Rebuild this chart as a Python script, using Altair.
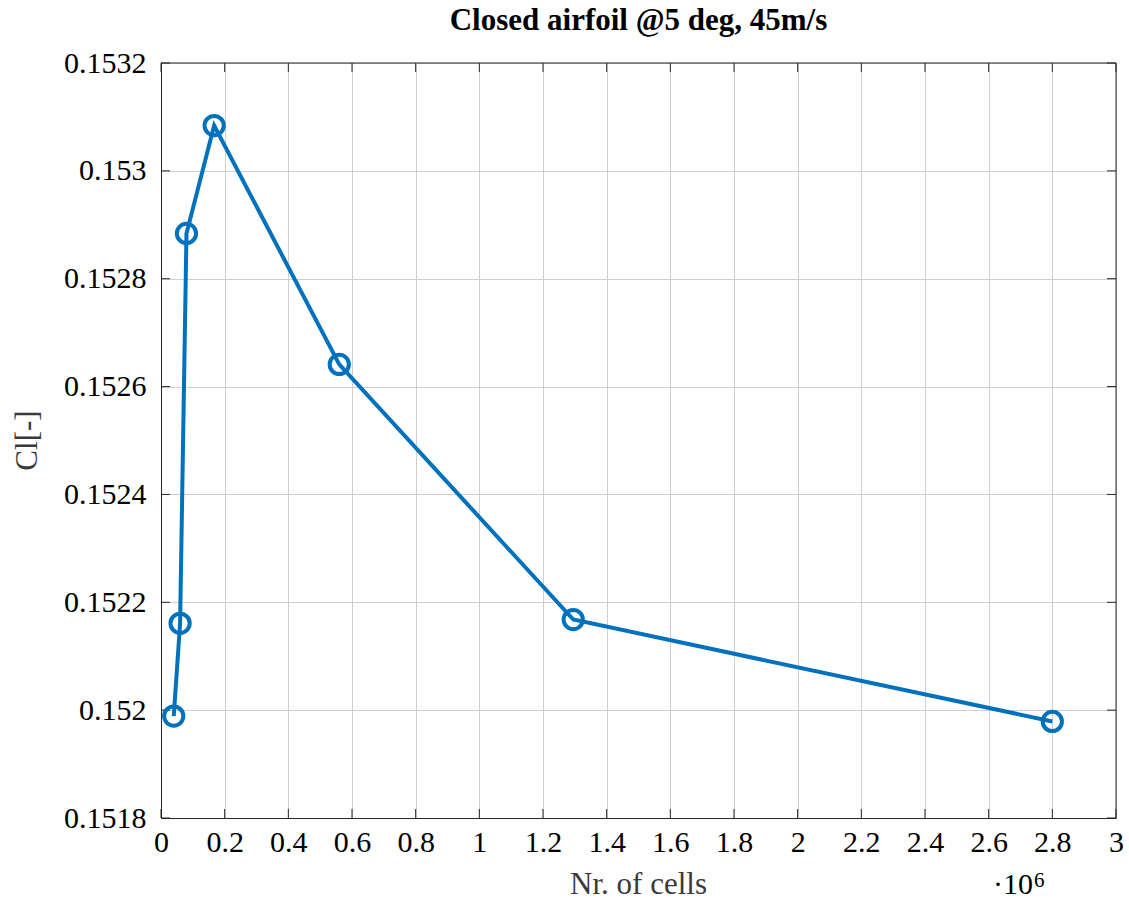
import altair as alt
import pandas as pd

# Data
cells = [40000, 60000, 80000, 167000, 560000, 1295000, 2800000]
cl = [0.151989, 0.152161, 0.152884, 0.153084, 0.152641, 0.152168, 0.151979]

x_ticks = [0, 200000, 400000, 600000, 800000, 1000000, 1200000, 1400000,
           1600000, 1800000, 2000000, 2200000, 2400000, 2600000, 2800000, 3000000]
y_ticks = [0.1518, 0.152, 0.1522, 0.1524, 0.1526, 0.1528, 0.153, 0.1532]

title_text = "Closed airfoil @5 deg, 45m/s"
x_title = "Nr.  of cells"
y_title = "Cl[-]"

W, H = 955, 755
BLUE = "#0072BD"
FONT = "Liberation Serif"
FRAME = "#262626"

df = pd.DataFrame({"cells": cells, "cl": cl})
xt = pd.DataFrame({"v": x_ticks})
yt = pd.DataFrame({"v": y_ticks})

xscale = alt.Scale(domain=[0, 3000000], nice=False, zero=False)
yscale = alt.Scale(domain=[0.1518, 0.1532], nice=False, zero=False)

xaxis = alt.Axis(values=x_ticks, labelExpr="format(datum.value/1e6, '.1~f')",
                 ticks=False, labelPadding=9, labelFontSize=30, labelFont=FONT,
                 labelColor="black", title=x_title, titleFont=FONT, titleFontSize=31,
                 titleFontWeight="normal", titleColor="#3a3a3a", titleX=477, titleY=75,
                 titleBaseline="alphabetic", titleAnchor="middle",
                 gridColor="#cfcfcf", gridWidth=1, domainColor=FRAME,
                 labelFlush=False, labelOverlap=False)
yaxis = alt.Axis(values=y_ticks, format=".4~f", ticks=False, labelPadding=15,
                 labelFontSize=30, labelFont=FONT, labelColor="black",
                 title=y_title, titleFont=FONT, titleFontSize=31, titleFontWeight="normal",
                 titleColor="#3a3a3a", titleX=-134, titleY=377, titleAngle=270,
                 titleBaseline="middle", titleAnchor="middle",
                 gridColor="#cfcfcf", gridWidth=1, domainColor=FRAME,
                 labelFlush=False, labelOverlap=False)

line = alt.Chart(df).mark_line(color=BLUE, strokeWidth=4).encode(
    x=alt.X("cells:Q", scale=xscale, axis=xaxis),
    y=alt.Y("cl:Q", scale=yscale, axis=yaxis),
)
pts = alt.Chart(df).mark_point(filled=False, color=BLUE, size=370, strokeWidth=4, opacity=1).encode(
    x=alt.X("cells:Q", scale=xscale, axis=xaxis),
    y=alt.Y("cl:Q", scale=yscale, axis=yaxis),
)

yt_left = alt.Chart(yt).mark_rule(color=FRAME, strokeWidth=1).encode(
    y=alt.Y("v:Q", scale=yscale, axis=yaxis), x=alt.value(0), x2=alt.value(9))
yt_right = alt.Chart(yt).mark_rule(color=FRAME, strokeWidth=1).encode(
    y=alt.Y("v:Q", scale=yscale, axis=yaxis), x=alt.value(W - 9), x2=alt.value(W))
xt_bot = alt.Chart(xt).mark_rule(color=FRAME, strokeWidth=1).encode(
    x=alt.X("v:Q", scale=xscale, axis=xaxis), y=alt.value(H - 9), y2=alt.value(H))
xt_top = alt.Chart(xt).mark_rule(color=FRAME, strokeWidth=1).encode(
    x=alt.X("v:Q", scale=xscale, axis=xaxis), y=alt.value(0), y2=alt.value(9))

frame_top = alt.Chart(pd.DataFrame({"a": [0]})).mark_rule(color=FRAME, strokeWidth=1).encode(
    x=alt.value(0), x2=alt.value(W), y=alt.value(0))
frame_right = alt.Chart(pd.DataFrame({"a": [0]})).mark_rule(color=FRAME, strokeWidth=1).encode(
    x=alt.value(W), y=alt.value(0), y2=alt.value(H))

title = alt.Chart(pd.DataFrame({"t": [title_text]})).mark_text(
    font=FONT, fontSize=31, fontWeight="bold", color="black", align="center", baseline="alphabetic"
).encode(text="t:N", x=alt.value(W / 2), y=alt.value(-33))

exp1 = alt.Chart(pd.DataFrame({"t": ["\u00b710"]})).mark_text(
    font=FONT, fontSize=30, color="black", align="right", baseline="alphabetic"
).encode(text="t:N", x=alt.value(872), y=alt.value(831))
exp2 = alt.Chart(pd.DataFrame({"t": ["6"]})).mark_text(
    font=FONT, fontSize=21, color="black", align="left", baseline="alphabetic"
).encode(text="t:N", x=alt.value(873), y=alt.value(824))

chart = alt.layer(yt_left, yt_right, xt_bot, xt_top, frame_top, frame_right,
                  line, pts, title, exp1, exp2).properties(
    width=W, height=H,
    autosize=alt.AutoSizeParams(type="none"),
    padding={"left": 161, "top": 63, "right": 13, "bottom": 82},
).configure_view(stroke=FRAME, strokeWidth=1).configure(background="white")

chart.save("out.html", embed_options={"renderer": "svg", "actions": False})
